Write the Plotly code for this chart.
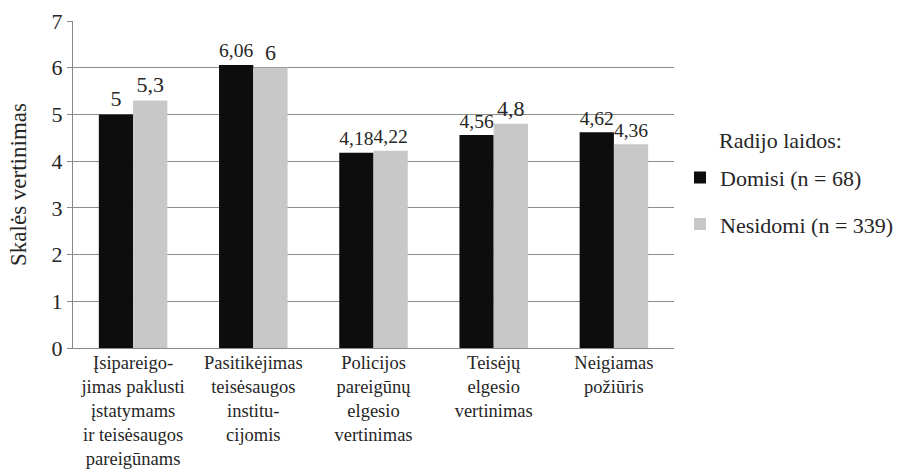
import plotly.graph_objects as go

# categories (x axis)
categories = [
    "Įsipareigo-<br>jimas paklusti<br>įstatymams<br>ir teisėsaugos<br>pareigūnams",
    "Pasitikėjimas<br>teisėsaugos<br>institu-<br>cijomis",
    "Policijos<br>pareigūnų<br>elgesio<br>vertinimas",
    "Teisėjų<br>elgesio<br>vertinimas",
    "Neigiamas<br>požiūris",
]

# series values
domisi = [5, 6.06, 4.18, 4.56, 4.62]
nesidomi = [5.3, 6, 4.22, 4.8, 4.36]

series_names = ["Domisi (n = 68)", "Nesidomi (n = 339)"]
legend_title = "Radijo laidos:"
y_ticks = [0, 1, 2, 3, 4, 5, 6, 7]

FONT = "Liberation Serif"
TXT = "#262626"


def lt(v):
    # lithuanian decimal comma
    return str(v).replace(".", ",")


fig = go.Figure()
for name, vals, color in zip(series_names, [domisi, nesidomi], ["#0d0d0d", "#c8c8c8"]):
    fig.add_trace(go.Bar(
        x=categories, y=vals, name=name, marker=dict(color=color, line=dict(width=0)),
        text=[lt(v) for v in vals], textposition="outside", cliponaxis=False,
        textfont=dict(family=FONT, size=22, color=TXT), legendgroup=name,
    ))

fig.update_layout(
    width=897, height=472,
    margin=dict(l=73, r=223, t=21, b=124, autoexpand=False),
    plot_bgcolor="white", paper_bgcolor="white",
    font=dict(family=FONT, size=20, color=TXT),
    barmode="group", bargap=0.43, bargroupgap=0,
    showlegend=True,
    legend=dict(
        x=1.01, y=0.585, xanchor="left", yanchor="top",
        font=dict(family=FONT, size=22, color=TXT), tracegroupgap=15, itemwidth=30,
        bgcolor="rgba(0,0,0,0)",
    ),
)
# legend heading
fig.add_annotation(
    text=legend_title, x=1.072, y=0.636, xref="paper", yref="paper", showarrow=False,
    xanchor="left", yanchor="middle", font=dict(family=FONT, size=22, color=TXT),
)
fig.update_xaxes(
    showline=True, linecolor="#888888", linewidth=1, ticks="",
    tickfont=dict(family=FONT, size=18.5), ticklabelstandoff=-2, automargin=False,
)
fig.update_yaxes(
    range=[0, 7], tickvals=y_ticks, showgrid=True, gridcolor="#8c8c8c", gridwidth=1,
    showline=True, linecolor="#888888", linewidth=1, ticks="outside", ticklen=5,
    tickcolor="#888888", tickfont=dict(family=FONT, size=22), zeroline=False,
    automargin=False,
    title=dict(text="Skalės vertinimas", font=dict(family=FONT, size=23), standoff=18),
)

fig.write_html("out.html", post_script="document.body.style.margin='0';",
               config={"displayModeBar": False})
